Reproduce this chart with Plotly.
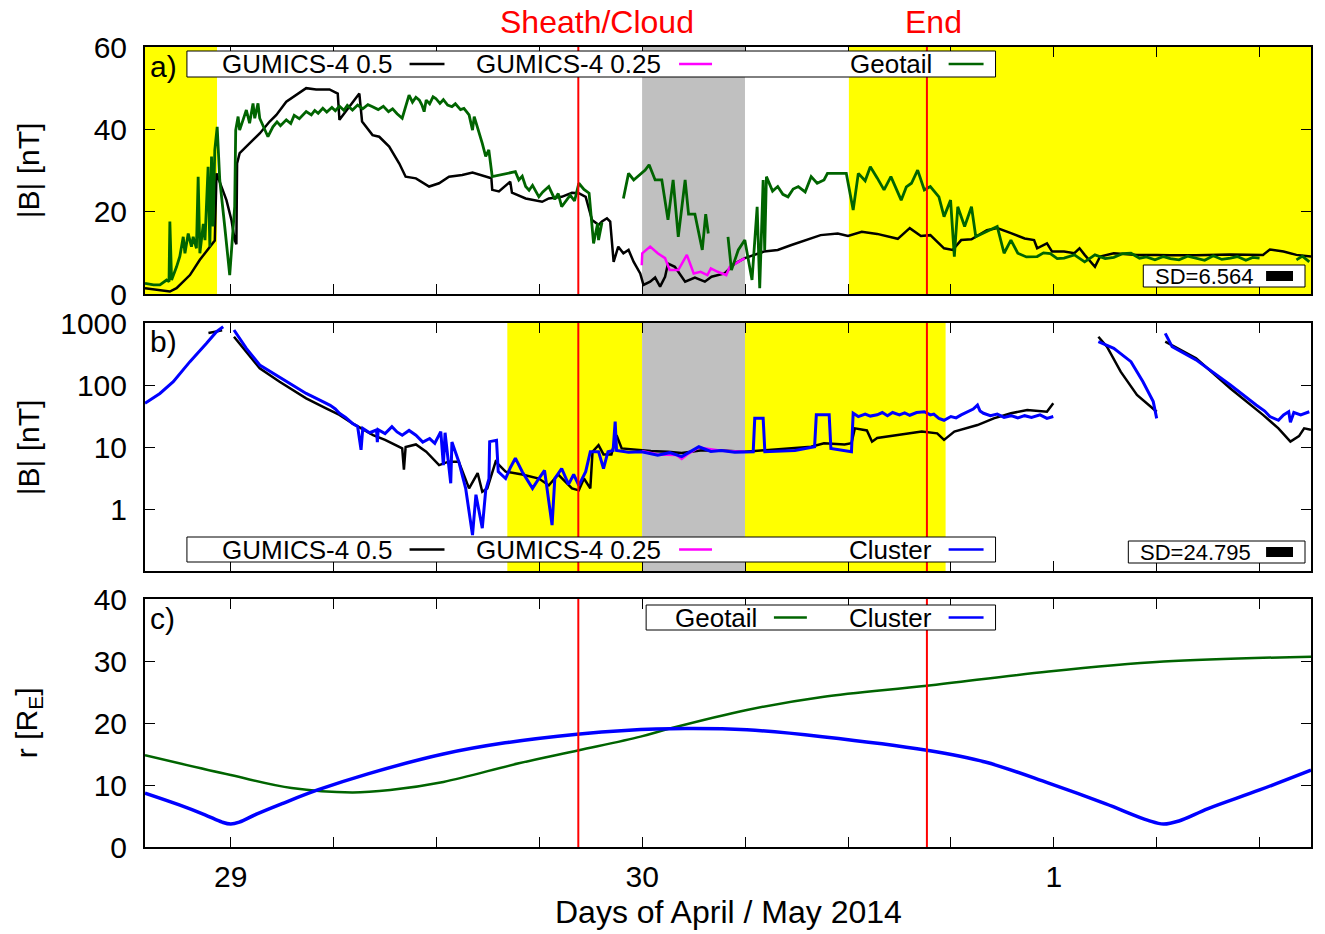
import plotly.graph_objects as go

# ---------------- DATA (x = hours since 2014-04-29 00:00) ----------------
N = None

# Panel a: |B| [nT]
gum05_a_h = [-5.0, -3.55, -3.16, -2.38, -1.8, -1.03, -0.93, -0.83, -0.54, -0.25, 0.04, 0.23, 0.33, 0.37, 0.52,
             1.1, 1.69, 2.27, 2.66, 3.24, 3.82, 4.4, 4.98, 5.76, 6.24, 6.34, 7.5, 7.66, 8.27, 8.66, 9.24, 9.83,
             10.2, 10.8, 11.57, 12.15, 12.73, 13.5, 14.1, 14.87, 15.2, 15.25, 15.64, 16.3, 16.4, 17.2, 18.16,
             18.55, 19.3, 19.9, 20.3, 20.7, 21.07, 21.45, 21.65, 21.94, 22.13, 22.33, 22.6, 22.9, 23.2, 23.5,
             23.88, 24.07, 24.46, 24.75, 25.04, 25.33, 25.5, 25.9, 26.5, 27.07, 27.65, 28.04, 28.8, 29.4, 29.98,
             31.1, 31.9, 32.7, 33.5, 34.4, 35.4, 36.0, 36.8, 37.7, 38.9, 39.6, 40.25, 40.8, 41.6, 42.1, 42.6,
             43.2, 44.1, 44.7, 45.5, 46.3, 46.85, 47.03, 47.6, 47.9, 48.6, 49.2, 49.5, 49.8, 50.4, 50.7, 51.5,
             52.85, 54.0, 54.8, 56.3, 58.3, 60.2, 60.6, 61.4, 62.15, 63.0]
gum05_a_v = [1.4, 0.6, 1.4, 4.6, 8.3, 12.3, 13.0, 29.3, 26.1, 22.8, 18.0, 13.1, 12.1, 31.7, 34.2,
             36.6, 39.0, 41.9, 43.5, 46.7, 48.3, 50.0, 49.7, 49.7, 48.7, 42.3, 48.7, 41.9, 38.6, 38.2, 35.8, 31.7,
             28.5, 28.1, 26.1, 26.9, 28.5, 28.9, 29.5, 28.5, 28.1, 25.3, 24.9, 27.3, 24.6, 23.2, 22.4,
             23.2, 23.6, 24.6, 24.5, 23.6, 18.0, 16.8, 17.6, 18.4, 17.6, 7.8, 11.5, 9.9, 10.7, 7.8,
             5.0, 2.2, 3.0, 4.0, 1.8, 4.2, 7.4, 6.6, 3.0, 4.0, 3.0, 4.2, 5.0, 7.4, 8.7,
             10.3, 10.7, 11.9, 13.1, 14.3, 14.7, 14.1, 15.1, 14.6, 13.4, 16.0, 14.1, 14.3, 11.1, 10.7, 13.1,
             13.3, 15.5, 16.0, 14.8, 13.5, 13.1, 11.1, 12.3, 10.3, 10.3, 9.9, 11.1, 9.5, 6.6, 9.1, 9.9,
             9.5, 9.5, 9.4, 9.4, 9.6, 9.5, 10.8, 10.3, 9.5, 9.1]

gum025_a_h = [23.97, 24.0, 24.46, 24.9, 25.33, 25.6, 26.1, 26.6, 27.0, 27.4, 27.8, 28.0, 28.4, 28.9, 29.1, 29.98]
gum025_a_v = [7.0, 9.9, 11.5, 9.9, 8.7, 5.8, 5.8, 9.5, 5.0, 5.4, 4.6, 6.2, 5.4, 4.6, 6.6, 8.7]

geotail_a_h = [-5.0, -4.5, -4.13, -3.74, -3.6, -3.55, -3.45, -3.3, -3.16, -2.97, -2.77, -2.67, -2.48, -2.29, -2.19,
               -2.0, -1.9, -1.8, -1.6, -1.5, -1.32, -1.22, -1.12, -1.03, -0.93, -0.79, -0.64, -0.35, -0.06, 0.23,
               0.29, 0.43, 0.52, 0.72, 0.91, 1.1, 1.3, 1.4, 1.59, 1.69, 2.17, 2.46, 2.7, 2.9, 3.24, 3.5, 3.7, 4.0,
               4.4, 4.7, 4.9, 5.1, 5.37, 5.6, 5.9, 6.1, 6.34, 6.6, 6.8, 7.1, 7.4, 7.7, 8.0, 8.27, 8.6, 8.9, 9.2,
               9.44, 9.7, 10.0, 10.4, 10.6, 10.8, 11.0, 11.15, 11.28, 11.4, 11.6, 11.8, 11.96, 12.2, 12.4, 12.65,
               12.9, 13.1, 13.4, 13.6, 13.9, 14.1, 14.2, 14.4, 14.67, 14.87, 15.05, 15.25, 16.6, 16.8, 17.0, 17.2,
               17.4, 17.6, 17.97, 18.2, 18.55, 18.9, 19.1, 19.3, 19.6, 19.8, 20.05, 20.3, 20.6, 20.9, 21.16, 21.4,
               21.45, 21.65, N,
               22.9, 23.2, 23.5, 24.17, 24.4, 24.75, 25.14, 25.5, 25.8, 26.1, 26.5, 26.7, 27.07, 27.5, 27.7, 27.85, N,
               29.0, 29.2, 29.6, 29.98, 30.4, 30.7, 30.85, 31.05, 31.14, 31.24, 31.6, 31.9, 32.2, 32.5, 32.8, 33.1,
               33.5, 33.85, 34.2, 34.6, 34.8, 35.9, 36.3, 36.6, 37.0, 37.3, 37.7, 38.1, 38.5, 38.8, 39.1, 39.4,
               39.7, 40.06, 40.45, 40.8, 41.3, 41.6, 41.98, 42.2, 42.4, 42.8, 43.2, 43.45, 44.7, 45.1, 45.5, 45.9,
               46.4, 47.03, 47.4, 47.8, 48.2, 48.6, 49.2, 49.8, 50.4, 51.0, 51.5, 52.0, 52.5, 53.0, 53.4, 53.9,
               54.4, 54.8, 55.3, 55.8, 56.3, 56.8, 57.3, 57.8, 58.3, 58.7, 59.2, 59.6, 60.0, N, 62.15, 62.5, 62.9]
geotail_a_v = [2.6, 2.2, 2.2, 3.4, 3.0, 17.6, 3.4, 5.0, 6.6, 9.1, 13.9, 9.9, 14.7, 11.5, 13.9,
               11.1, 28.5, 9.9, 17.0, 13.1, 30.9, 11.5, 33.4, 16.4, 35.0, 40.6, 27.7, 16.4, 4.6, 21.2,
               39.8, 43.1, 39.8, 42.3, 44.7, 41.5, 46.3, 42.7, 46.3, 42.7, 38.2, 40.6, 41.8, 40.9, 42.3, 41.4, 43.4, 42.6,
               44.3, 43.5, 44.6, 43.9, 45.1, 44.2, 45.3, 44.5, 45.6, 44.6, 45.8, 44.7, 45.9, 45.0, 46.0, 45.5, 44.8, 45.6, 44.3,
               45.0, 43.8, 42.7, 48.3, 46.6, 47.8, 47.1, 45.9, 44.3, 47.1, 46.2, 47.9, 47.5, 46.3, 47.2, 45.9,
               45.5, 46.2, 44.8, 45.1, 43.5, 39.8, 43.1, 40.5, 36.6, 33.4, 35.0, 28.5, 29.7, 27.7, 28.6, 26.1,
               25.2, 26.4, 23.6, 24.8, 26.1, 23.0, 24.4, 21.2, 22.9, 24.0, 22.6, 26.9, 25.4, 24.5, 12.3, 17.2,
               13.1, 17.4, N,
               23.2, 29.3, 27.7, 30.1, 31.4, 27.7, 27.7, 18.0, 27.7, 13.9, 27.7, 19.4, 19.4, 10.7, 19.4, 14.7, N,
               13.9, 5.8, 10.7, 13.1, 3.4, 21.2, 1.4, 27.7, 10.7, 28.5, 25.0, 26.1, 24.2, 23.6, 25.5, 26.1,
               24.8, 28.5, 26.9, 27.7, 29.3, 29.3, 20.4, 29.3, 27.5, 30.9, 28.2, 25.3, 28.5, 25.6, 22.8, 26.0,
               26.9, 30.1, 25.3, 26.1, 23.6, 18.8, 22.8, 9.1, 21.2, 16.4, 21.2, 13.9, 16.4, 9.9, 13.1, 9.9,
               9.0, 9.1, 10.0, 9.8, 8.6, 8.7, 9.5, 7.8, 9.5, 8.6, 8.9, 9.8, 9.9, 8.7, 9.0, 8.3,
               9.1, 8.6, 8.3, 9.2, 8.7, 8.2, 9.3, 8.4, 8.7, 9.1, 8.2, 8.9, 8.7, N, 8.3, 9.2, 7.8]

# Panel b: |B| [nT] (log)
gum05_b_h = [-1.3, -0.5, N, 0.19, 0.91, 1.69, 2.85, 4.4, 5.56, 6.34, 7.1, 8.3, 9.0, 10.0, 10.1, 10.2, 10.8, 11.4,
             12.15, 12.7, 13.3, 13.9, 14.4, 14.67, 14.96, 15.45, 16.03, 17.0, 17.97, 18.55, 19.1, 19.9, 20.3,
             20.6, 20.97, 21.1, 21.45, 21.74, 22.2, 22.5, 22.8, 23.8, 24.5, 25.5, 26.3, 27.5, 28.6, 29.98,
             31.9, 33.85, 34.6, 35.8, 36.2, 36.4, 37.1, 37.4, 37.7, 38.5, 39.5, 40.3, 41.2, 41.6, 42.2,
             43.55, 44.5, 45.5, 46.45, 47.6, 47.97, N, 50.6, 51.1, 51.9, 52.85, 54.0, N,
             54.5, 56.3, 58.3, 60.2, 61.1, 61.8, 62.3, 62.6, 63.0]
gum05_b_v = [690, 760, N, 600, 344, 186, 113, 61, 42, 33, 24, 15.5, 13, 9.5, 4.3, 10, 11, 8.4,
             5.1, 5.8, 5.8, 2.15, 3.8, 1.9, 2.15, 5.8, 4.0, 3.6, 3.1, 2.4, 3.6, 2.15, 2.0,
             3.1, 2.15, 8.4, 10.7, 7.6, 7.6, 15.5, 9.5, 9.0, 8.6, 8.4, 8.0, 8.9, 8.8, 8.4,
             9.2, 10.1, 11.5, 11.0, 11.5, 20, 18.5, 12.2, 14, 15, 16.5, 17.7, 16.6, 13, 17.7,
             22.6, 29, 35, 39.5, 37, 50.7, N, 600, 415, 164, 69, 37, N,
             500, 270, 88, 33, 20, 12.2, 15, 20, 19]

gum025_b_h = [23.97, 24.9, 26.0, 26.3, 26.6, 27.3, 28.6, 29.98]
gum025_b_v = [8.6, 7.6, 7.4, 6.4, 7.5, 9.8, 8.7, 8.4]

cluster_b_h = [-5.0, -4.13, -3.35, -2.38, -1.41, -0.83, -0.44, N, 0.19, 0.91, 1.69, 2.46, 3.43, 4.4, 5.37, 5.8,
               6.1, 6.34, 6.7, 7.1, 7.4, 7.6, 7.7, 8.1, 8.5, 8.55, 8.6, 9.0, 9.4, 9.7, 10.0, 10.4, 10.8, 11.2,
               11.6, 11.9, 12.25, 12.4, 12.5, 12.83, 12.9, 13.3, 13.7, 14.1, 14.3, 14.5, 14.67, 14.87, 15.06,
               15.1, 15.5, 15.6, 16.03, 16.3, 16.6, 17.0, 17.3, 17.6, 17.97, 18.3, 18.74, 18.9, 19.3, 19.7,
               20.0, 20.3, 20.7, 20.97, 21.45, 21.74, 22.0, 22.3, 22.42, 22.5, 23.2, 23.97, 24.9, 25.6, 26.3,
               27.3, 28.0, 28.6, 29.4, 30.47, 30.56, 31.05, 31.15, 32.0, 32.9, 34.05, 34.15, 34.9, 35.0, 36.2,
               36.3, 36.6, 37.0, 37.3, 37.7, 38.0, 38.3, 38.6, 39.0, 39.3, 39.6, 40.0, 40.45, 40.8, 41.0, 41.3,
               41.6, 42.0, 42.3, 42.6, 43.0, 43.3, 43.55, 43.7, 43.9, 44.3, 44.7, 45.1, 45.5, 45.9, 46.3, 46.7,
               47.2, 47.6, 47.97, N,
               50.6, 51.5, 52.5, 53.2, 53.8, 54.0, N,
               54.5, 54.9, 56.3, 58.3, 59.8, 60.3, 60.6, 61.1, 61.4, 61.7, 61.8, 62.0, 62.4, 62.9]
cluster_b_v = [50.7, 73, 113, 238, 470, 724, 871, N, 771, 390, 210, 155, 106, 73, 54, 47,
               41, 35, 30, 24, 21.4, 9, 20, 17, 18.8, 12, 19, 16.5, 21.3, 17.5, 15.5, 18.5, 15.5, 12,
               13.7, 11.5, 17.7, 5.1, 17, 2.6, 12, 5.8, 2.15, 0.38, 1.7, 0.8, 0.49, 2.0, 3.1,
               12.2, 12.8, 4.0, 3.1, 4.6, 6.6, 4.0, 2.9, 2.15, 3.1, 4.2, 0.55, 3.1, 4.5, 2.5,
               3.6, 2.4, 4.0, 8.4, 8.4, 4.5, 8.4, 8.8, 25.7, 8.8, 8.2, 8.4, 7.4, 8.1, 7.0,
               10.1, 8.5, 8.8, 8.2, 8.4, 29, 29, 8.4, 8.6, 8.8, 10.1, 33, 33, 9.5, 8.4,
               35, 31, 34, 31.5, 33, 36, 32, 36, 33, 35.5, 32.5, 36, 37, 33, 34, 29,
               27, 31, 29.5, 33, 38, 41, 47.5, 38, 35, 32, 34, 30, 32, 29.5, 32, 30,
               33, 29, 31, N,
               500, 390, 238, 113, 54, 29, N,
               681, 415, 254, 100, 47.5, 38, 31, 27, 33, 37, 25, 36, 33, 37]

# Panel c: r [R_E]
geotail_r_h = [-5.0, 0.0, 3.55, 7.08, 9.3, 12.4, 16.8, 20.3, 23.9, 25.6, 30.1, 34.5, 40.6, 47.7, 54.4, 63.0]
geotail_r_v = [14.8, 11.6, 9.5, 8.8, 9.2, 10.5, 13.5, 15.6, 17.8, 19.1, 22.1, 24.2, 26.0, 28.3, 29.9, 30.7]

cluster_r_h = [-5.0, -3.0, -1.5, -0.5, 0.0, 0.5, 1.5, 3.0, 5.07, 8.0, 12.4, 16.0, 20.2, 23.0, 26.5, 30.1,
               34.5, 40.6, 44.0, 47.7, 51.0, 53.5, 54.4, 55.3, 57.0, 60.0, 63.0]
cluster_r_v = [8.7, 6.8, 5.2, 4.0, 3.7, 4.0, 5.3, 7.0, 9.2, 11.8, 15.0, 16.8, 18.2, 18.8, 19.1, 18.9,
               17.8, 15.6, 13.7, 10.3, 7.0, 4.3, 3.7, 4.2, 6.2, 9.2, 12.4]

# Event markers and shaded intervals (hours)
event_h = [20.27, 40.6]
event_labels = ["Sheath/Cloud", "End"]
yellow_a = [[-5.0, -0.8], [36.05, 63.0]]
yellow_b = [[16.13, 23.99], [29.99, 41.69]]
grey_ab = [23.99, 29.99]

x_range = [-5, 63]
x_tickvals = list(range(0, 61, 6))
x_ticktext = ["29" if v == 0 else "30" if v == 24 else "1" if v == 48 else " " for v in x_tickvals]

sd_labels = ["SD=6.564", "SD=24.795"]

# ---------------- FIGURE ----------------
FONT = "Liberation Sans, Arial, Helvetica, sans-serif"
W, H = 1325, 934
PL, PR, PT, PB = 145, 1313, 47, 847


def fx(px):
    return (px - PL) / (PR - PL)


def fy(py):
    return (PB - py) / (PB - PT)


GREEN = "#006400"
BLUE = "#0000ff"
MAG = "#ff00ff"
YEL = "#ffff00"
GREY = "#c0c0c0"
RED = "#ff0000"

fig = go.Figure()

# Panel a
fig.add_trace(go.Scatter(x=gum05_a_h, y=gum05_a_v, mode="lines", line=dict(color="black", width=2.5),
                         xaxis="x", yaxis="y", showlegend=False))
fig.add_trace(go.Scatter(x=gum025_a_h, y=gum025_a_v, mode="lines", line=dict(color=MAG, width=2.5),
                         xaxis="x", yaxis="y", showlegend=False))
fig.add_trace(go.Scatter(x=geotail_a_h, y=geotail_a_v, mode="lines", line=dict(color=GREEN, width=2.8),
                         xaxis="x", yaxis="y", showlegend=False))
# Panel b
fig.add_trace(go.Scatter(x=gum05_b_h, y=gum05_b_v, mode="lines", line=dict(color="black", width=2.5),
                         xaxis="x2", yaxis="y2", showlegend=False))
fig.add_trace(go.Scatter(x=gum025_b_h, y=gum025_b_v, mode="lines", line=dict(color=MAG, width=2.5),
                         xaxis="x2", yaxis="y2", showlegend=False))
fig.add_trace(go.Scatter(x=cluster_b_h, y=cluster_b_v, mode="lines", line=dict(color=BLUE, width=3),
                         xaxis="x2", yaxis="y2", showlegend=False))
# Panel c
fig.add_trace(go.Scatter(x=geotail_r_h, y=geotail_r_v, mode="lines", line=dict(color=GREEN, width=2.5, shape="spline"),
                         xaxis="x3", yaxis="y3", showlegend=False))
fig.add_trace(go.Scatter(x=cluster_r_h, y=cluster_r_v, mode="lines", line=dict(color=BLUE, width=3.5, shape="spline"),
                         xaxis="x3", yaxis="y3", showlegend=False))

xcommon = dict(range=x_range, tickmode="array", tickvals=x_tickvals, ticktext=x_ticktext,
               ticks="inside", ticklen=10, tickwidth=1.2, tickcolor="black",
               showline=True, linewidth=2, linecolor="black", mirror="allticks",
               showgrid=False, zeroline=False, tickfont=dict(family=FONT, size=30, color="black"))
ycommon = dict(ticks="inside", ticklen=10, tickwidth=1.2, tickcolor="black",
               showline=True, linewidth=2, linecolor="black", mirror="allticks",
               showgrid=False, zeroline=False, tickfont=dict(family=FONT, size=30, color="black"),
               ticklabelstandoff=10)

dom_a = [fy(294), fy(47)]
dom_b = [fy(571), fy(323)]
dom_c = [fy(847), fy(599)]

fig.update_layout(
    width=W, height=H,
    margin=dict(l=PL, r=W - PR, t=PT, b=H - PB),
    paper_bgcolor="white", plot_bgcolor="white",
    font=dict(family=FONT, color="black"),
    showlegend=False,
    xaxis=dict(**xcommon, domain=[0, 1], anchor="y", showticklabels=False),
    xaxis2=dict(**xcommon, domain=[0, 1], anchor="y2", showticklabels=False),
    xaxis3=dict(**xcommon, domain=[0, 1], anchor="y3", showticklabels=True, ticklabelstandoff=2),
    yaxis=dict(**ycommon, domain=dom_a, anchor="x", range=[0, 60], tickvals=[0, 20, 40, 60]),
    yaxis2=dict(**ycommon, domain=dom_b, anchor="x2", type="log", range=[-1, 3],
                tickvals=[1, 10, 100, 1000], ticktext=["1", "10", "100", "1000"]),
    yaxis3=dict(**ycommon, domain=dom_c, anchor="x3", range=[0, 40], tickvals=[0, 10, 20, 30, 40]),
)

shapes = []
# shading
for x0, x1 in yellow_a:
    shapes.append(dict(type="rect", xref="x", yref="y domain", x0=x0, x1=x1, y0=0, y1=1,
                       fillcolor=YEL, line=dict(width=0), layer="below"))
shapes.append(dict(type="rect", xref="x", yref="y domain", x0=grey_ab[0], x1=grey_ab[1], y0=0, y1=1,
                   fillcolor=GREY, line=dict(width=0), layer="below"))
for x0, x1 in yellow_b:
    shapes.append(dict(type="rect", xref="x2", yref="y2 domain", x0=x0, x1=x1, y0=0, y1=1,
                       fillcolor=YEL, line=dict(width=0), layer="below"))
shapes.append(dict(type="rect", xref="x2", yref="y2 domain", x0=grey_ab[0], x1=grey_ab[1], y0=0, y1=1,
                   fillcolor=GREY, line=dict(width=0), layer="below"))
# event lines
for ax in ["", "2", "3"]:
    for e in event_h:
        shapes.append(dict(type="line", xref="x" + ax, yref=f"y{ax} domain", x0=e, x1=e, y0=0, y1=1,
                           line=dict(color=RED, width=2), layer="above"))


# legend boxes (gnuplot style)
def box(x0, x1, y0, y1):
    shapes.append(dict(type="rect", xref="paper", yref="paper", x0=fx(x0), x1=fx(x1), y0=fy(y1), y1=fy(y0),
                       fillcolor="white", line=dict(color="black", width=1), layer="above"))


def sample(x0, x1, yc, color, width=2.5):
    shapes.append(dict(type="line", xref="paper", yref="paper", x0=fx(x0), x1=fx(x1), y0=fy(yc), y1=fy(yc),
                       line=dict(color=color, width=width), layer="above"))


annotations = []


def text(px, py, s, size=26, anchor="right", color="black", angle=0):
    annotations.append(dict(xref="paper", yref="paper", x=fx(px), y=fy(py), text=s, showarrow=False,
                            xanchor=anchor, yanchor="middle", textangle=angle,
                            font=dict(family=FONT, size=size, color=color)))


# panel a legend
box(187, 997, 51, 77)
text(395, 64, "GUMICS-4 0.5"); sample(410, 445, 64, "black")
text(664, 64, "GUMICS-4 0.25"); sample(680, 713, 64, MAG)
text(935, 64, "Geotail"); sample(950, 985, 64, GREEN)
# panel b legend
box(187, 997, 537, 562)
text(395, 549.5, "GUMICS-4 0.5"); sample(410, 445, 549.5, "black")
text(664, 549.5, "GUMICS-4 0.25"); sample(680, 713, 549.5, MAG)
text(935, 549.5, "Cluster"); sample(950, 985, 549.5, BLUE)
# panel c legend
box(647, 997, 605, 630)
text(760, 617.5, "Geotail"); sample(775, 808, 617.5, GREEN)
text(935, 617.5, "Cluster"); sample(950, 985, 617.5, BLUE)

# SD boxes
box(1145, 1307, 265, 287)
text(1155, 276, sd_labels[0], size=22, anchor="left")
shapes.append(dict(type="rect", xref="paper", yref="paper", x0=fx(1268), x1=fx(1295), y0=fy(281), y1=fy(271),
                   fillcolor="black", line=dict(width=0), layer="above"))
box(1130, 1307, 541, 563)
text(1140, 552, sd_labels[1], size=22, anchor="left")
shapes.append(dict(type="rect", xref="paper", yref="paper", x0=fx(1268), x1=fx(1295), y0=fy(557), y1=fy(547),
                   fillcolor="black", line=dict(width=0), layer="above"))

# panel letters
text(148, 66, "a)", size=30, anchor="left")
text(148, 341, "b)", size=30, anchor="left")
text(148, 618, "c)", size=30, anchor="left")

# event labels
text(598, 22, event_labels[0], size=32, anchor="center", color=RED)
text(935, 22, event_labels[1], size=32, anchor="center", color=RED)

# axis titles
text(729, 912, "Days of April / May 2014", size=32, anchor="center")
text(28, 170, "|B| [nT]", size=30, anchor="center", angle=-90)
text(28, 447, "|B| [nT]", size=30, anchor="center", angle=-90)
text(28, 723, "r [R<sub>E</sub>]", size=30, anchor="center", angle=-90)

fig.update_layout(shapes=shapes, annotations=annotations)

fig.write_html("out.html", config={"displayModeBar": False},
               post_script="document.body.style.margin='0';document.body.style.overflow='hidden';")
